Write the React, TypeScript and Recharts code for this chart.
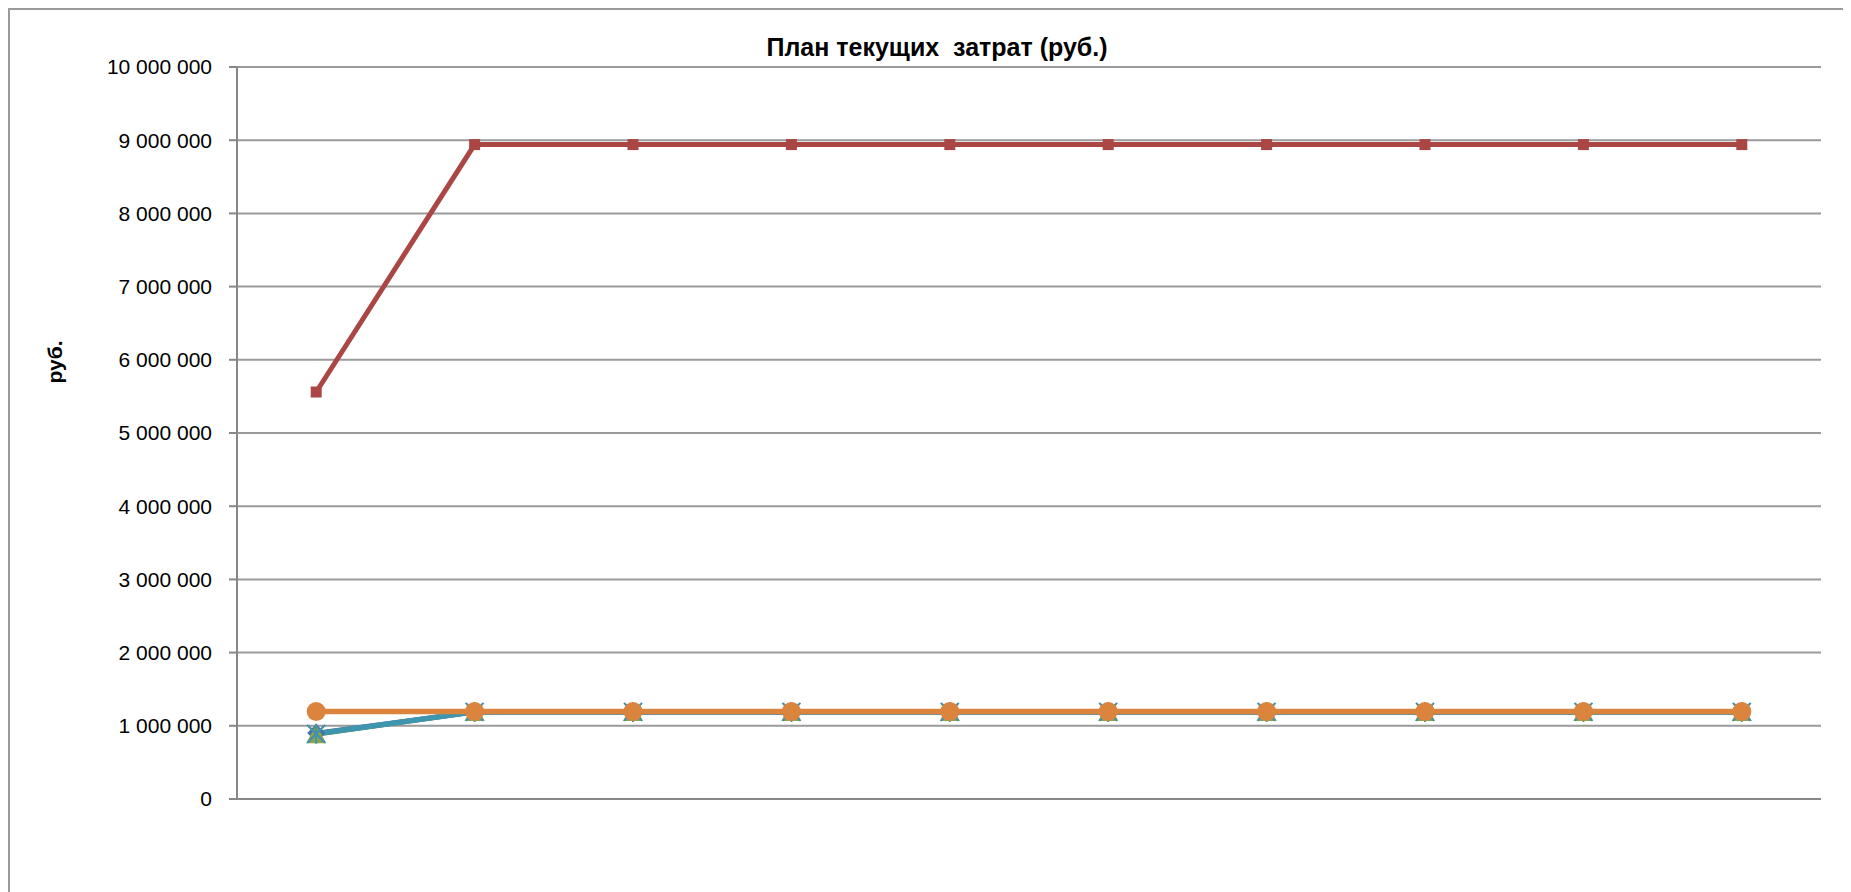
import { CartesianGrid, Line, LineChart, XAxis, YAxis } from 'recharts'

// Excel 2007 style palette
const BLUE = '#4572A7'
const RED = '#AA4643'
const GREEN = '#89A54E'
const PURPLE = '#80699B'
const TEAL = '#3D96AE'
const ORANGE = '#DB843D'

const GRID = '#9a9a9a'
const AXIS = '#878787'
const FONT = '"Liberation Sans", Arial, sans-serif'

const categories = ['1', '2', '3', '4', '5', '6', '7', '8', '9', '10']
const seriesBlue = [900000, 1190000, 1190000, 1190000, 1190000, 1190000, 1190000, 1190000, 1190000, 1190000]
const seriesRed = [5560000, 8940000, 8940000, 8940000, 8940000, 8940000, 8940000, 8940000, 8940000, 8940000]
const seriesGreen = [885000, 1190000, 1190000, 1190000, 1190000, 1190000, 1190000, 1190000, 1190000, 1190000]
const seriesPurple = [890000, 1190000, 1190000, 1190000, 1190000, 1190000, 1190000, 1190000, 1190000, 1190000]
const seriesTeal = [890000, 1190000, 1190000, 1190000, 1190000, 1190000, 1190000, 1190000, 1190000, 1190000]
const seriesOrange = [1195000, 1195000, 1195000, 1195000, 1195000, 1195000, 1195000, 1195000, 1195000, 1195000]
const yTicks = [0, 1000000, 2000000, 3000000, 4000000, 5000000, 6000000, 7000000, 8000000, 9000000, 10000000]

const data = categories.map((c, i) => ({
  cat: c,
  blue: seriesBlue[i],
  red: seriesRed[i],
  green: seriesGreen[i],
  purple: seriesPurple[i],
  teal: seriesTeal[i],
  orange: seriesOrange[i],
}))

const fmtRub = (v: number) => String(v).replace(/\B(?=(\d{3})+(?!\d))/g, ' ')

type Shape = 'diamond' | 'square' | 'triangle' | 'x' | 'star' | 'circle'

function marker(shape: Shape, color: string) {
  return (props: any) => {
    const { cx, cy, index } = props
    const k = `${shape}-${index}`
    if (cx == null || cy == null) return <g key={k} />
    switch (shape) {
      case 'diamond':
        return (
          <path key={k} d={`M${cx} ${cy - 9}L${cx + 9} ${cy}L${cx} ${cy + 9}L${cx - 9} ${cy}Z`} fill={color} />
        )
      case 'square':
        return <rect key={k} x={cx - 5.5} y={cy - 5.5} width={11} height={11} fill={color} />
      case 'triangle':
        return (
          <path key={k} d={`M${cx} ${cy - 10}L${cx + 10} ${cy + 9}L${cx - 10} ${cy + 9}Z`} fill={color} />
        )
      case 'x':
        return (
          <path
            key={k}
            d={`M${cx - 8} ${cy - 8}L${cx + 8} ${cy + 8}M${cx + 8} ${cy - 8}L${cx - 8} ${cy + 8}`}
            stroke={color}
            strokeWidth={2}
          />
        )
      case 'star':
        return (
          <path
            key={k}
            d={`M${cx - 9} ${cy - 9}L${cx + 9} ${cy + 9}M${cx + 9} ${cy - 9}L${cx - 9} ${cy + 9}M${cx} ${cy - 10}L${cx} ${cy + 10}`}
            stroke={color}
            strokeWidth={2}
          />
        )
      default:
        return <circle key={k} cx={cx} cy={cy} r={9.5} fill={color} />
    }
  }
}

const seriesDefs: { key: string; color: string; shape: Shape; width: number }[] = [
  { key: 'blue', color: BLUE, shape: 'diamond', width: 5 },
  { key: 'red', color: RED, shape: 'square', width: 5 },
  { key: 'green', color: GREEN, shape: 'triangle', width: 5 },
  { key: 'purple', color: PURPLE, shape: 'x', width: 5 },
  { key: 'teal', color: TEAL, shape: 'star', width: 5.5 },
  { key: 'orange', color: ORANGE, shape: 'circle', width: 5.5 },
]

export default function App() {
  return (
    <div
      style={{
        position: 'relative',
        width: 1835,
        height: 890,
        border: `2px solid ${GRID}`,
        background: '#fff',
        fontFamily: FONT,
      }}
    >
      <div
        style={{
          position: 'absolute',
          top: 23,
          left: 927,
          transform: 'translateX(-50%)',
          fontSize: 25,
          fontWeight: 'bold',
          whiteSpace: 'pre',
          color: '#000',
        }}
      >
        {'План текущих  затрат (руб.)'}
      </div>
      <div
        style={{
          position: 'absolute',
          left: 45,
          top: 352,
          transform: 'translate(-50%, -50%) rotate(-90deg)',
          fontSize: 21,
          fontWeight: 'bold',
          color: '#000',
        }}
      >
        руб.
      </div>
      <LineChart width={1835} height={890} data={data} margin={{ top: 57, right: 24, bottom: 100, left: 0 }}>
        <CartesianGrid stroke={GRID} strokeWidth={2} vertical={false} />
        <XAxis
          dataKey="cat"
          scale="band"
          tick={false}
          tickLine={false}
          height={1}
          axisLine={{ stroke: AXIS, strokeWidth: 2 }}
        />
        <YAxis
          domain={[0, 10000000]}
          ticks={yTicks}
          interval={0}
          width={227}
          tickSize={8}
          tickMargin={17}
          tickLine={{ stroke: AXIS, strokeWidth: 2 }}
          axisLine={{ stroke: AXIS, strokeWidth: 2 }}
          tickFormatter={fmtRub}
          tick={{ fill: '#000', fontSize: 21, fontFamily: FONT }}
        />
        {seriesDefs.map((s) => (
          <Line
            key={s.key}
            type="linear"
            dataKey={s.key}
            stroke={s.color}
            strokeWidth={s.width}
            dot={marker(s.shape, s.color)}
            activeDot={false}
            isAnimationActive={false}
          />
        ))}
      </LineChart>
    </div>
  )
}
